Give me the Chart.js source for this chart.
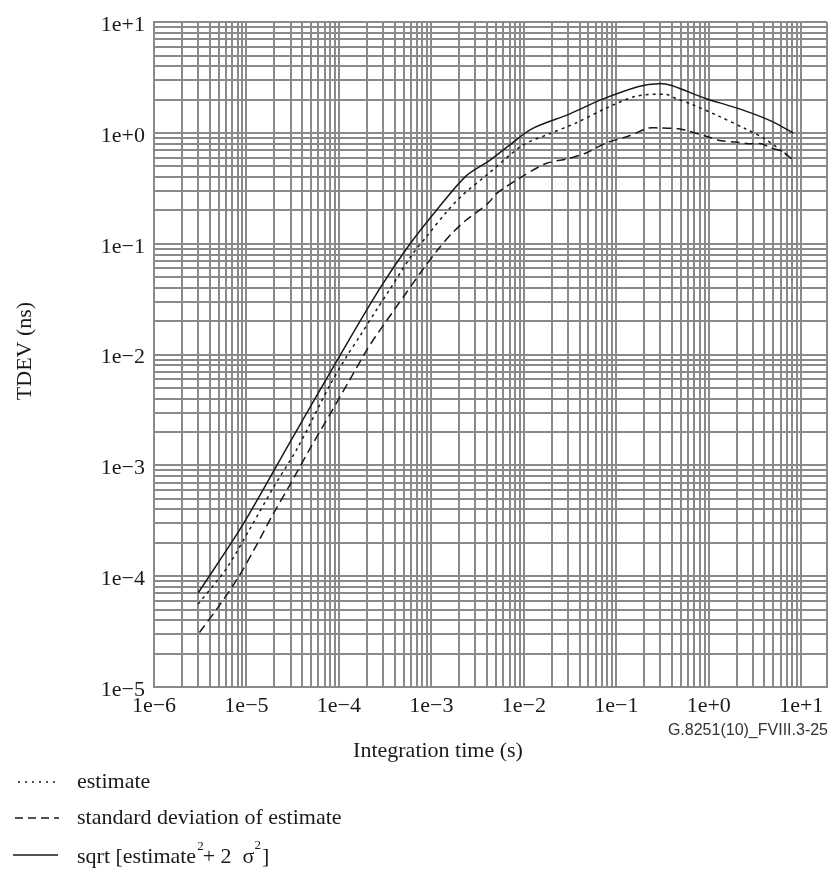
<!DOCTYPE html>
<html>
<head>
<meta charset="utf-8">
<script src="https://cdn.jsdelivr.net/npm/chart.js@4"></script>
<style>
  body { margin: 0; background: #fff; }
  canvas { display: block; }
</style>
</head>
<body>
<canvas id="tdev" width="833" height="877"></canvas>
<script>
// tick decades (labels are 1e-6 ... 1e+1)
const xDecades = [-6, -5, -4, -3, -2, -1, 0, 1];
const yDecades = [-5, -4, -3, -2, -1, 0, 1];
const xMax = 19;

// estimate (dotted)
const estTau = [3e-6, 6.1e-6, 1.09e-5, 2.02e-5, 3.49e-5, 7.9e-5, 1.21e-4, 1.67e-4, 2.6e-4, 3.5e-4, 6.2e-4, 8.8e-4,
  1.45e-3, 2.16e-3, 3.9e-3, 9.6e-3, 1.87e-2, 3.66e-2, 7.7e-2, 0.162, 0.342, 0.44, 0.65, 1.28, 2.5, 4.1, 7.8];
const estVal = [5.6e-5, 1.18e-4, 2.68e-4, 6.6e-4, 1.39e-3, 5.2e-3, 9.6e-3, 1.45e-2, 2.6e-2, 3.8e-2, 8.0e-2, 0.115,
  0.193, 0.274, 0.413, 0.77, 0.98, 1.23, 1.67, 2.14, 2.23, 2.05, 1.82, 1.42, 1.09, 0.88, 0.59];

// standard deviation of estimate (dashed)
const sdTau = [3.1e-6, 4.9e-6, 8.05e-6, 1.23e-5, 1.92e-5, 2.93e-5, 4.8e-5, 8.5e-5, 1.3e-4, 1.99e-4, 2.48e-4, 5.4e-4,
  8.0e-4, 1.22e-3, 1.68e-3, 2.38e-3, 3.29e-3, 4.2e-3, 5.1e-3, 8.9e-3, 1.74e-2, 3.1e-2, 4.7e-2, 7.7e-2, 0.136,
  0.224, 0.287, 0.47, 0.6, 0.92, 1.37, 1.95, 2.7, 3.7, 4.75, 6.1, 8.0];
const sdVal = [3.1e-5, 5.2e-5, 9.6e-5, 1.78e-4, 3.58e-4, 6.6e-4, 1.39e-3, 3.16e-3, 5.86e-3, 1.09e-2, 1.45e-2, 3.65e-2,
  5.8e-2, 9.2e-2, 0.125, 0.164, 0.20, 0.237, 0.285, 0.39, 0.53, 0.59, 0.66, 0.81, 0.94,
  1.11, 1.11, 1.09, 1.04, 0.94, 0.85, 0.83, 0.80, 0.80, 0.73, 0.69, 0.58];

// sqrt [estimate^2 + 2 sigma^2] (solid)
const sqrtTau = [3e-6, 9.1e-6, 2.93e-5, 1.01e-4, 2.74e-4, 5.78e-4, 1.13e-3, 2.38e-3, 4.2e-3, 6.9e-3, 1.22e-2,
  3.1e-2, 7.0e-2, 0.175, 0.287, 0.397, 0.92, 1.76, 2.9, 4.75, 8.2];
const sqrtVal = [7.05e-5, 2.9e-4, 1.6e-3, 9.6e-3, 3.9e-2, 9.8e-2, 0.20, 0.41, 0.56, 0.77, 1.09,
  1.48, 2.01, 2.63, 2.79, 2.68, 2.05, 1.74, 1.51, 1.28, 1.0];

const gridGrey = '#8a8a8a';
const ink = '#1a1a1a';
const serif = '"Liberation Serif", "Times New Roman", serif';

function pts(xs, ys) {
    return xs.map((x, i) => ({x: x, y: ys[i]}));
}

function gridValues(decades) {
    const vals = [];
    decades.forEach((d, i) => {
        const top = i === decades.length - 1 ? 1 : 9;
        for (let m = 1; m <= top; m++) vals.push(parseFloat(m + 'e' + d));
    });
    return vals;
}

function decadeLabel(v, decades) {
    const e = Math.round(Math.log10(v));
    if (Math.abs(Math.log10(v) - e) > 1e-9 || !decades.includes(e)) return '';
    return '1e' + (e < 0 ? '\u2212' + (-e) : '+' + e);
}

// titles, legend and figure code drawn on the canvas
const extraText = {
    id: 'extraText',
    afterDraw(chart) {
        const ctx = chart.ctx;
        ctx.save();
        ctx.fillStyle = ink;
        ctx.font = '22px ' + serif;
        ctx.textBaseline = 'middle';

        ctx.textAlign = 'center';
        ctx.fillText('Integration time (s)', 438, 751);

        ctx.save();
        ctx.translate(25, 351);
        ctx.rotate(-Math.PI / 2);
        ctx.fillText('TDEV (ns)', 0, 0);
        ctx.restore();

        ctx.textAlign = 'right';
        ctx.font = '16px "Liberation Sans", Arial, sans-serif';
        ctx.fillStyle = '#333';
        ctx.fillText('G.8251(10)_FVIII.3-25', 828, 731);

        // legend
        ctx.fillStyle = ink;
        ctx.strokeStyle = ink;
        ctx.lineWidth = 1.3;
        const rows = [
            {y: 782, dash: [2, 5], x0: 18, x1: 60},
            {y: 818, dash: [8, 5], x0: 15, x1: 59},
            {y: 855, dash: [], x0: 13, x1: 58}
        ];
        rows.forEach(r => {
            ctx.setLineDash(r.dash);
            ctx.beginPath();
            ctx.moveTo(r.x0, r.y);
            ctx.lineTo(r.x1, r.y);
            ctx.stroke();
        });
        ctx.setLineDash([]);

        ctx.textAlign = 'left';
        ctx.font = '22px ' + serif;
        ctx.fillText('estimate', 77, 782);
        ctx.fillText('standard deviation of estimate', 77, 818);

        let x = 77;
        const y = 857;
        const part = (txt, size, dy) => {
            ctx.font = size + 'px ' + serif;
            ctx.fillText(txt, x, y + dy);
            x += ctx.measureText(txt).width;
        };
        part('sqrt [estimate', 22, 0);
        x += 1;
        part('2', 13, -10);
        x -= 1;
        part('+ 2  \u03c3', 22, 0);
        part('2', 13, -11);
        x += 1;
        part(']', 22, 0);
        ctx.restore();
    }
};

const lineSet = (label, data, dash) => ({
    label: label,
    data: data,
    borderColor: ink,
    borderWidth: 1.5,
    borderDash: dash,
    pointRadius: 0,
    tension: 0.3,
    fill: false
});

new Chart(document.getElementById('tdev'), {
    type: 'line',
    data: {
        datasets: [
            lineSet('estimate', pts(estTau, estVal), [3, 4]),
            lineSet('standard deviation of estimate', pts(sdTau, sdVal), [9, 5]),
            lineSet('sqrt [estimate² + 2 σ²]', pts(sqrtTau, sqrtVal), [])
        ]
    },
    options: {
        responsive: false,
        animation: false,
        layout: {padding: {top: 15, right: 6, left: 0, bottom: 0}},
        plugins: {
            legend: {display: false},
            tooltip: {enabled: false}
        },
        scales: {
            x: {
                type: 'logarithmic',
                min: 1e-6,
                max: xMax,
                afterBuildTicks: (scale) => {
                    scale.ticks = gridValues(xDecades).concat([xMax]).map(v => ({value: v}));
                },
                afterFit: (scale) => { scale.height = 190; },
                grid: {color: gridGrey, lineWidth: 2, drawTicks: false},
                border: {color: gridGrey, width: 2},
                ticks: {
                    autoSkip: false,
                    maxRotation: 0,
                    padding: 6,
                    color: ink,
                    font: {family: serif, size: 22},
                    callback: (v) => decadeLabel(v, xDecades)
                }
            },
            y: {
                type: 'logarithmic',
                min: 1e-5,
                max: 10,
                afterBuildTicks: (scale) => {
                    scale.ticks = gridValues(yDecades).map(v => ({value: v}));
                },
                afterFit: (scale) => { scale.width = 154; },
                grid: {color: gridGrey, lineWidth: 2, drawTicks: false},
                border: {color: gridGrey, width: 2},
                ticks: {
                    autoSkip: false,
                    padding: 9,
                    labelOffset: 3,
                    color: ink,
                    font: {family: serif, size: 22},
                    callback: (v) => decadeLabel(v, yDecades)
                }
            }
        }
    },
    plugins: [extraText]
});
</script>
</body>
</html>
